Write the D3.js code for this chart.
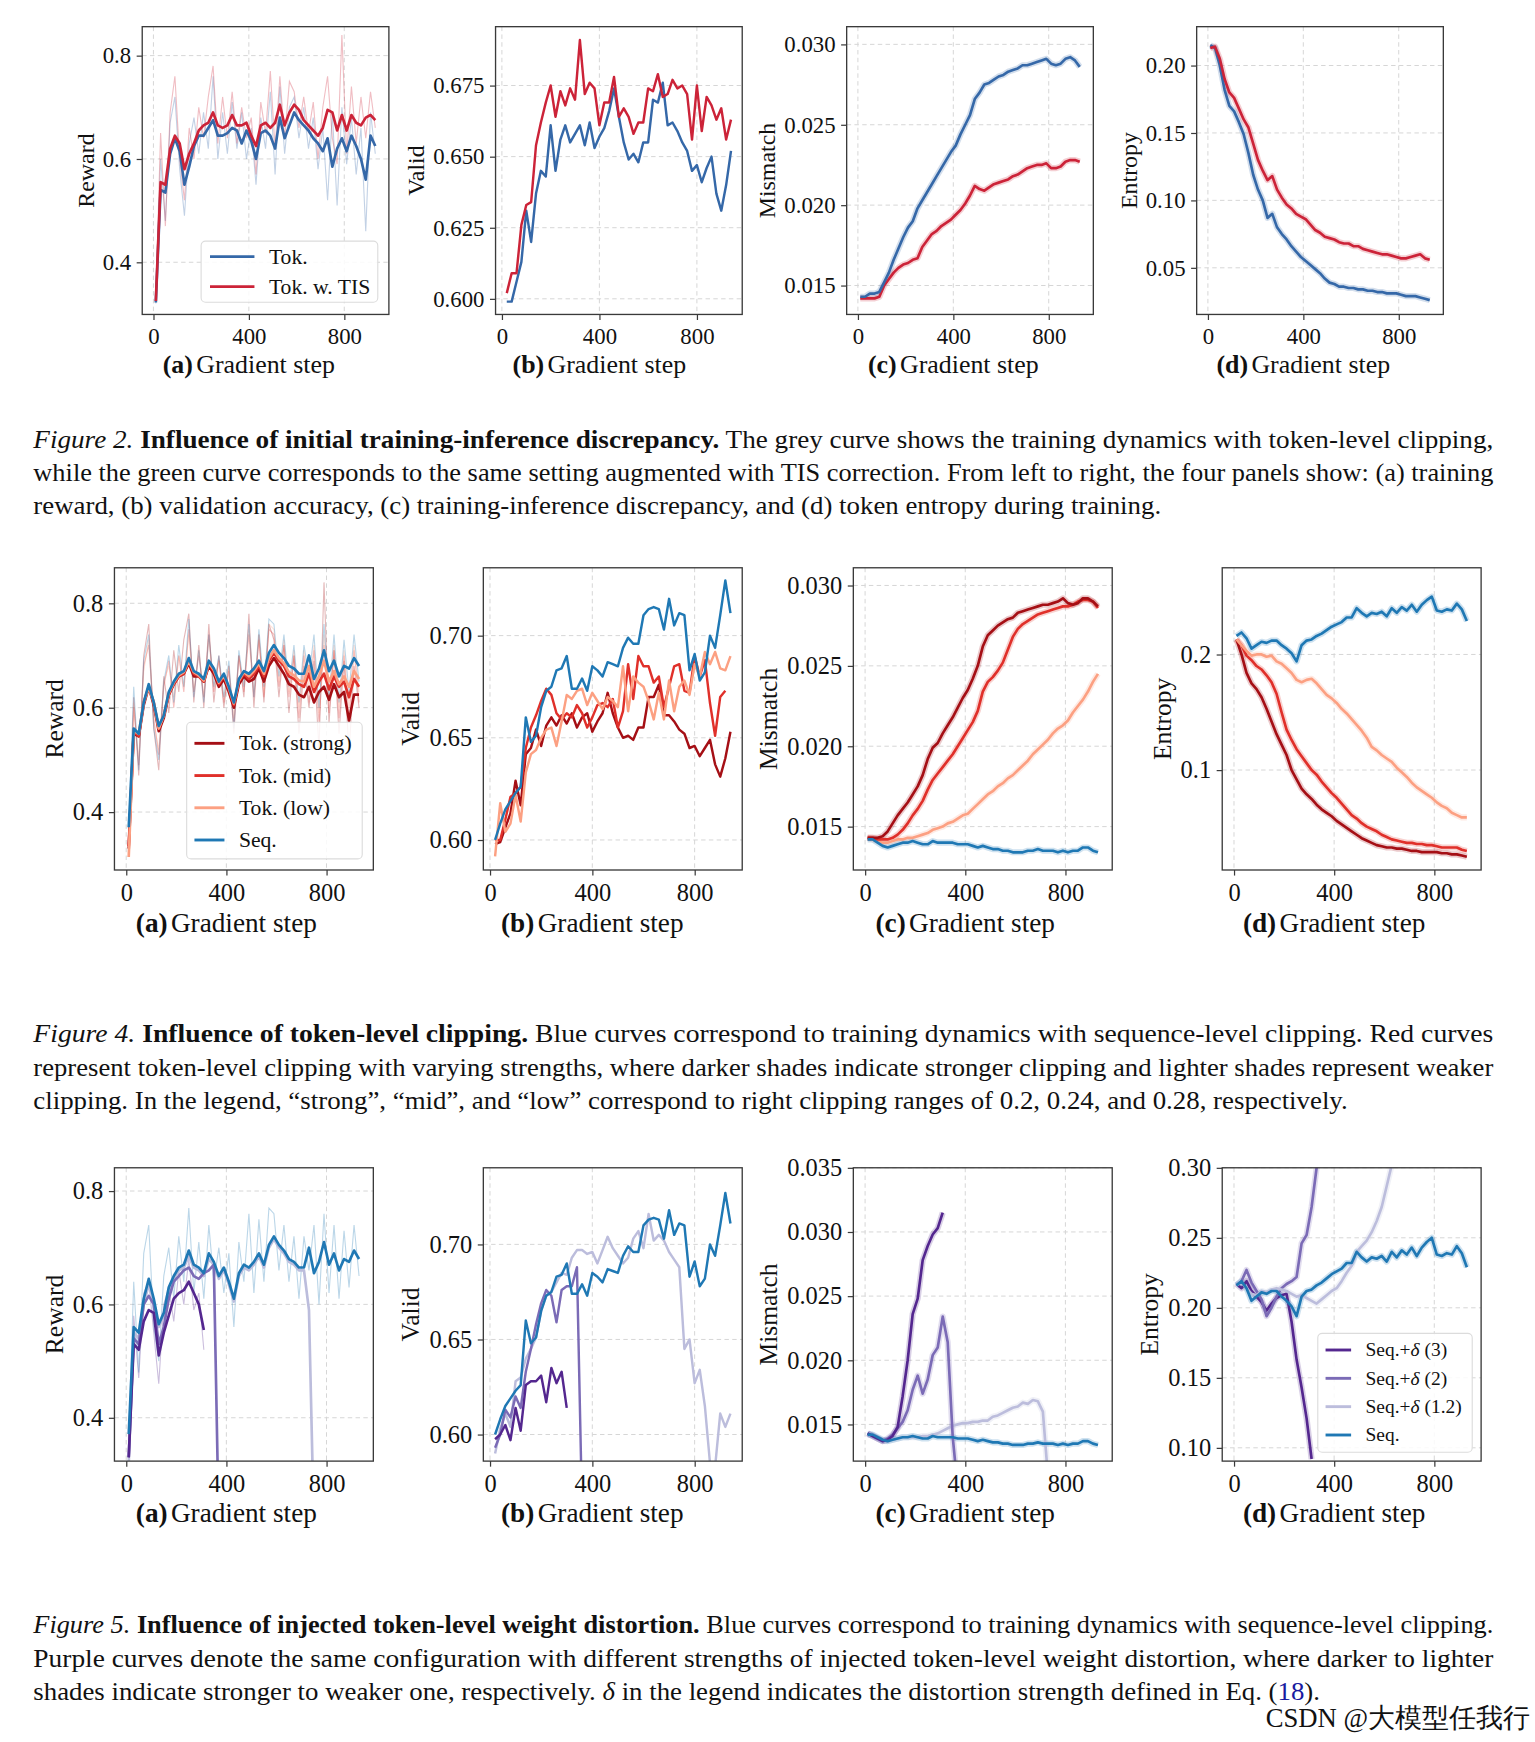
<!DOCTYPE html>
<html>
<head>
<meta charset="utf-8">
<script src="https://cdn.jsdelivr.net/npm/d3@7"></script>
<style>
  body { margin: 0; background: #fff; }
  text { font-family: "Liberation Serif", "Times New Roman", serif; fill: #111; }
</style>
</head>
<body>
<script>
// ---------- data ----------
// training curves are sampled every 20 steps from step 10, validation every 20 steps from step 20
let trainSteps = [10, 30, 50, 70, 90, 110, 130, 150, 170, 190, 210, 230, 250, 270, 290, 310, 330, 350, 370, 390,
  410, 430, 450, 470, 490, 510, 530, 550, 570, 590, 610, 630, 650, 670, 690, 710, 730, 750, 770, 790,
  810, 830, 850, 870, 890, 910, 930];
let validSteps = [20, 40, 60, 80, 100, 120, 140, 160, 180, 200, 220, 240, 260, 280, 300, 320, 340, 360, 380, 400,
  420, 440, 460, 480, 500, 520, 540, 560, 580, 600, 620, 640, 660, 680, 700, 720, 740, 760, 780, 800,
  820, 840, 860, 880, 900, 920, 940];
let xTickValues = [0, 400, 800];

// Figure 2
let f2RewardTok = [0.322, 0.540, 0.535, 0.610, 0.640, 0.615, 0.550, 0.585, 0.625, 0.645,
  0.645, 0.660, 0.675, 0.645, 0.645, 0.650, 0.660, 0.655, 0.630, 0.655,
  0.635, 0.600, 0.650, 0.655, 0.645, 0.620, 0.680, 0.640, 0.665, 0.690,
  0.675, 0.665, 0.655, 0.640, 0.630, 0.615, 0.640, 0.585, 0.620, 0.640,
  0.615, 0.645, 0.625, 0.600, 0.560, 0.645, 0.625];
let f2RewardTIS = [0.325, 0.555, 0.550, 0.620, 0.645, 0.630, 0.580, 0.610, 0.630, 0.655,
  0.665, 0.670, 0.690, 0.665, 0.660, 0.665, 0.685, 0.665, 0.665, 0.670,
  0.645, 0.625, 0.665, 0.670, 0.660, 0.670, 0.705, 0.665, 0.690, 0.705,
  0.695, 0.675, 0.665, 0.655, 0.645, 0.660, 0.695, 0.690, 0.655, 0.685,
  0.655, 0.685, 0.670, 0.665, 0.680, 0.685, 0.675];
let f2RewardTokRaw = [0.320, 0.600, 0.480, 0.670, 0.720, 0.580, 0.490, 0.630, 0.680, 0.610,
  0.690, 0.620, 0.760, 0.600, 0.690, 0.610, 0.710, 0.620, 0.690, 0.600,
  0.660, 0.550, 0.680, 0.620, 0.730, 0.570, 0.740, 0.610, 0.700, 0.720,
  0.640, 0.700, 0.620, 0.680, 0.580, 0.660, 0.520, 0.690, 0.510, 0.700,
  0.590, 0.680, 0.570, 0.660, 0.460, 0.690, 0.610];
let f2RewardTISRaw = [0.330, 0.650, 0.470, 0.690, 0.760, 0.600, 0.520, 0.660, 0.600, 0.700,
  0.640, 0.720, 0.780, 0.630, 0.720, 0.640, 0.730, 0.630, 0.700, 0.640,
  0.680, 0.570, 0.710, 0.650, 0.770, 0.620, 0.760, 0.640, 0.750, 0.730,
  0.660, 0.720, 0.650, 0.710, 0.600, 0.700, 0.760, 0.640, 0.590, 0.840,
  0.610, 0.740, 0.630, 0.720, 0.640, 0.730, 0.660];
let f2ValidTok = [0.599, 0.599, 0.606, 0.613, 0.631, 0.620, 0.637, 0.645, 0.643, 0.661,
  0.645, 0.656, 0.661, 0.655, 0.658, 0.661, 0.654, 0.662, 0.653, 0.657,
  0.660, 0.666, 0.674, 0.664, 0.655, 0.649, 0.651, 0.648, 0.655, 0.655,
  0.670, 0.669, 0.676, 0.661, 0.662, 0.659, 0.655, 0.652, 0.645, 0.647,
  0.641, 0.646, 0.650, 0.637, 0.631, 0.640, 0.652];
let f2ValidTIS = [0.602, 0.609, 0.609, 0.626, 0.633, 0.634, 0.654, 0.662, 0.669, 0.675,
  0.664, 0.673, 0.668, 0.674, 0.670, 0.691, 0.672, 0.676, 0.674, 0.661,
  0.669, 0.669, 0.678, 0.664, 0.667, 0.664, 0.658, 0.662, 0.662, 0.674,
  0.673, 0.679, 0.671, 0.672, 0.677, 0.674, 0.675, 0.672, 0.656, 0.675,
  0.659, 0.671, 0.668, 0.663, 0.667, 0.656, 0.663];
let f2MismatchTok = [0.0143, 0.0143, 0.0145, 0.0145, 0.0146, 0.0152, 0.0158, 0.0166, 0.0173, 0.0180,
  0.0186, 0.0190, 0.0198, 0.0203, 0.0208, 0.0213, 0.0218, 0.0223, 0.0228, 0.0233,
  0.0237, 0.0244, 0.0250, 0.0256, 0.0266, 0.0270, 0.0275, 0.0276, 0.0278, 0.0280,
  0.0281, 0.0283, 0.0284, 0.0285, 0.0287, 0.0287, 0.0288, 0.0289, 0.0290, 0.0291,
  0.0288, 0.0287, 0.0288, 0.0291, 0.0292, 0.0290, 0.0286];
let f2MismatchTIS = [0.0142, 0.0142, 0.0142, 0.0142, 0.0143, 0.0150, 0.0154, 0.0158, 0.0161, 0.0163,
  0.0164, 0.0166, 0.0167, 0.0174, 0.0178, 0.0182, 0.0184, 0.0187, 0.0189, 0.0191,
  0.0194, 0.0197, 0.0201, 0.0206, 0.0212, 0.0210, 0.0209, 0.0211, 0.0213, 0.0214,
  0.0215, 0.0216, 0.0218, 0.0219, 0.0221, 0.0223, 0.0224, 0.0225, 0.0225, 0.0226,
  0.0223, 0.0223, 0.0224, 0.0227, 0.0228, 0.0228, 0.0227];
let f2EntropyTok = [0.215, 0.213, 0.200, 0.182, 0.170, 0.166, 0.158, 0.149, 0.135, 0.119,
  0.108, 0.100, 0.087, 0.090, 0.080, 0.075, 0.071, 0.066, 0.062, 0.058,
  0.055, 0.052, 0.049, 0.046, 0.042, 0.039, 0.038, 0.036, 0.036, 0.035,
  0.035, 0.034, 0.034, 0.033, 0.033, 0.032, 0.032, 0.031, 0.031, 0.031,
  0.030, 0.029, 0.029, 0.029, 0.028, 0.027, 0.026];
let f2EntropyTIS = [0.213, 0.214, 0.205, 0.190, 0.180, 0.176, 0.168, 0.160, 0.154, 0.142,
  0.130, 0.122, 0.115, 0.118, 0.108, 0.102, 0.097, 0.094, 0.090, 0.088,
  0.086, 0.082, 0.078, 0.076, 0.073, 0.072, 0.071, 0.069, 0.068, 0.068,
  0.066, 0.066, 0.064, 0.063, 0.062, 0.061, 0.060, 0.060, 0.059, 0.058,
  0.057, 0.057, 0.058, 0.059, 0.060, 0.057, 0.056];

// Figure 4
let f4RewardStrong = [0.330, 0.550, 0.545, 0.605, 0.640, 0.605, 0.555, 0.580, 0.625, 0.645,
  0.660, 0.665, 0.685, 0.660, 0.660, 0.650, 0.680, 0.665, 0.640, 0.655,
  0.630, 0.600, 0.645, 0.660, 0.650, 0.655, 0.675, 0.650, 0.680, 0.695,
  0.680, 0.665, 0.645, 0.640, 0.625, 0.620, 0.640, 0.610, 0.630, 0.640,
  0.615, 0.645, 0.620, 0.630, 0.575, 0.625, 0.625];
let f4RewardMid = [0.335, 0.555, 0.545, 0.610, 0.640, 0.610, 0.560, 0.585, 0.625, 0.645,
  0.660, 0.665, 0.690, 0.665, 0.660, 0.650, 0.685, 0.670, 0.645, 0.660,
  0.635, 0.605, 0.650, 0.665, 0.655, 0.665, 0.680, 0.660, 0.690, 0.705,
  0.690, 0.680, 0.660, 0.655, 0.645, 0.640, 0.665, 0.630, 0.650, 0.665,
  0.635, 0.660, 0.640, 0.650, 0.620, 0.655, 0.640];
let f4RewardLow = [0.314, 0.555, 0.550, 0.610, 0.640, 0.610, 0.560, 0.585, 0.628, 0.648,
  0.662, 0.668, 0.690, 0.668, 0.662, 0.652, 0.686, 0.672, 0.648, 0.662,
  0.638, 0.608, 0.652, 0.668, 0.660, 0.670, 0.685, 0.665, 0.695, 0.710,
  0.695, 0.685, 0.668, 0.662, 0.652, 0.650, 0.680, 0.640, 0.660, 0.690,
  0.650, 0.670, 0.645, 0.660, 0.640, 0.670, 0.655];
let seqReward = [0.371, 0.560, 0.550, 0.610, 0.645, 0.610, 0.565, 0.585, 0.630, 0.650,
  0.665, 0.670, 0.695, 0.670, 0.665, 0.655, 0.690, 0.675, 0.650, 0.665,
  0.640, 0.610, 0.655, 0.670, 0.665, 0.675, 0.690, 0.670, 0.705, 0.720,
  0.705, 0.695, 0.680, 0.675, 0.665, 0.665, 0.700, 0.655, 0.675, 0.710,
  0.670, 0.690, 0.660, 0.680, 0.675, 0.695, 0.680];
let f4RewardStrongRaw = [0.330, 0.620, 0.470, 0.700, 0.760, 0.560, 0.480, 0.660, 0.590, 0.710,
  0.630, 0.730, 0.780, 0.610, 0.720, 0.600, 0.760, 0.610, 0.700, 0.600,
  0.680, 0.550, 0.700, 0.620, 0.780, 0.600, 0.740, 0.610, 0.760, 0.730,
  0.620, 0.720, 0.590, 0.700, 0.550, 0.680, 0.600, 0.690, 0.520, 0.840,
  0.570, 0.710, 0.550, 0.690, 0.510, 0.680, 0.600];
let f4RewardMidRaw = [0.335, 0.600, 0.490, 0.680, 0.720, 0.580, 0.510, 0.640, 0.690, 0.600,
  0.700, 0.630, 0.750, 0.630, 0.700, 0.620, 0.740, 0.630, 0.690, 0.610,
  0.670, 0.570, 0.700, 0.630, 0.740, 0.620, 0.730, 0.620, 0.750, 0.740,
  0.640, 0.720, 0.620, 0.700, 0.580, 0.700, 0.610, 0.710, 0.570, 0.720,
  0.590, 0.710, 0.580, 0.700, 0.570, 0.710, 0.610];
let f4RewardLowRaw = [0.314, 0.610, 0.500, 0.670, 0.730, 0.570, 0.520, 0.650, 0.680, 0.620,
  0.700, 0.640, 0.740, 0.630, 0.710, 0.620, 0.730, 0.640, 0.690, 0.620,
  0.680, 0.580, 0.700, 0.640, 0.750, 0.630, 0.740, 0.630, 0.760, 0.750,
  0.650, 0.730, 0.630, 0.710, 0.600, 0.710, 0.640, 0.720, 0.590, 0.740,
  0.610, 0.720, 0.600, 0.710, 0.600, 0.720, 0.630];
let seqRewardRaw = [0.371, 0.640, 0.480, 0.690, 0.740, 0.560, 0.500, 0.650, 0.700, 0.610,
  0.720, 0.640, 0.770, 0.620, 0.710, 0.610, 0.740, 0.640, 0.700, 0.620,
  0.690, 0.560, 0.710, 0.640, 0.760, 0.620, 0.750, 0.640, 0.770, 0.760,
  0.660, 0.740, 0.640, 0.720, 0.610, 0.720, 0.660, 0.740, 0.600, 0.760,
  0.620, 0.740, 0.610, 0.730, 0.630, 0.740, 0.650];
let f4ValidStrong = [0.598, 0.599, 0.606, 0.613, 0.629, 0.617, 0.642, 0.645, 0.654, 0.646,
  0.656, 0.660, 0.656, 0.661, 0.657, 0.662, 0.655, 0.660, 0.662, 0.653,
  0.658, 0.662, 0.672, 0.662, 0.655, 0.650, 0.651, 0.649, 0.655, 0.655,
  0.670, 0.670, 0.676, 0.661, 0.661, 0.658, 0.654, 0.652, 0.645, 0.646,
  0.641, 0.645, 0.649, 0.637, 0.631, 0.640, 0.653];
let f4ValidMid = [0.600, 0.600, 0.610, 0.621, 0.623, 0.626, 0.645, 0.655, 0.661, 0.668,
  0.674, 0.671, 0.662, 0.659, 0.662, 0.660, 0.666, 0.662, 0.655, 0.660,
  0.666, 0.667, 0.665, 0.669, 0.655, 0.663, 0.686, 0.669, 0.690, 0.685,
  0.685, 0.677, 0.680, 0.665, 0.675, 0.685, 0.686, 0.673, 0.672, 0.690,
  0.680, 0.688, 0.667, 0.651, 0.670, 0.673];
let f4ValidLow = [0.592, 0.618, 0.604, 0.608, 0.622, 0.609, 0.633, 0.642, 0.644, 0.650,
  0.654, 0.655, 0.646, 0.658, 0.671, 0.669, 0.673, 0.674, 0.666, 0.672,
  0.668, 0.664, 0.670, 0.668, 0.665, 0.685, 0.663, 0.680, 0.677, 0.675,
  0.668, 0.659, 0.672, 0.659, 0.678, 0.663, 0.675, 0.678, 0.671, 0.686,
  0.680, 0.692, 0.686, 0.692, 0.684, 0.683, 0.690];
let seqValid = [0.600, 0.608, 0.615, 0.619, 0.623, 0.626, 0.660, 0.648, 0.651, 0.665,
  0.673, 0.675, 0.683, 0.684, 0.690, 0.674, 0.674, 0.679, 0.673, 0.685,
  0.683, 0.680, 0.687, 0.686, 0.685, 0.694, 0.699, 0.696, 0.696, 0.710,
  0.713, 0.714, 0.713, 0.703, 0.718, 0.705, 0.711, 0.710, 0.683, 0.691,
  0.678, 0.682, 0.700, 0.694, 0.710, 0.727, 0.711];
let f4MismatchStrong = [0.0143, 0.0143, 0.0143, 0.0144, 0.0147, 0.0152, 0.0157, 0.0161, 0.0165, 0.0170,
  0.0175, 0.0182, 0.0192, 0.0199, 0.0202, 0.0208, 0.0213, 0.0218, 0.0224, 0.0230,
  0.0235, 0.0242, 0.0250, 0.0262, 0.0269, 0.0272, 0.0275, 0.0277, 0.0279, 0.0280,
  0.0283, 0.0284, 0.0285, 0.0286, 0.0287, 0.0288, 0.0288, 0.0289, 0.0290, 0.0292,
  0.0289, 0.0288, 0.0289, 0.0292, 0.0292, 0.0290, 0.0287];
let f4MismatchMid = [0.0143, 0.0143, 0.0142, 0.0142, 0.0142, 0.0143, 0.0145, 0.0148, 0.0152, 0.0157,
  0.0161, 0.0166, 0.0173, 0.0179, 0.0183, 0.0187, 0.0191, 0.0195, 0.0200, 0.0205,
  0.0210, 0.0215, 0.0222, 0.0234, 0.0240, 0.0243, 0.0247, 0.0252, 0.0260, 0.0268,
  0.0273, 0.0276, 0.0278, 0.0280, 0.0282, 0.0283, 0.0284, 0.0285, 0.0286, 0.0287,
  0.0287, 0.0288, 0.0290, 0.0291, 0.0291, 0.0290, 0.0286];
let f4MismatchLow = [0.0143, 0.0142, 0.0141, 0.0140, 0.0140, 0.0141, 0.0142, 0.0142, 0.0143, 0.0143,
  0.0144, 0.0145, 0.0146, 0.0148, 0.0149, 0.0150, 0.0152, 0.0153, 0.0155, 0.0157,
  0.0158, 0.0161, 0.0164, 0.0167, 0.0170, 0.0172, 0.0175, 0.0177, 0.0180, 0.0182,
  0.0185, 0.0188, 0.0191, 0.0195, 0.0198, 0.0201, 0.0204, 0.0208, 0.0211, 0.0213,
  0.0216, 0.0221, 0.0225, 0.0229, 0.0234, 0.0240, 0.0245];
let seqMismatch = [0.0142, 0.0142, 0.0140, 0.0138, 0.0137, 0.0138, 0.0139, 0.0140, 0.0140, 0.0141,
  0.0140, 0.0139, 0.0139, 0.0141, 0.0140, 0.0140, 0.0140, 0.0140, 0.0139, 0.0139,
  0.0139, 0.0138, 0.0137, 0.0138, 0.0137, 0.0136, 0.0136, 0.0135, 0.0135, 0.0134,
  0.0134, 0.0134, 0.0135, 0.0135, 0.0136, 0.0135, 0.0135, 0.0135, 0.0134, 0.0135,
  0.0134, 0.0135, 0.0135, 0.0137, 0.0137, 0.0135, 0.0134];
let f4EntropyStrong = [0.213, 0.200, 0.184, 0.175, 0.170, 0.163, 0.153, 0.142, 0.131, 0.122,
  0.113, 0.100, 0.092, 0.084, 0.079, 0.075, 0.070, 0.066, 0.063, 0.060,
  0.056, 0.053, 0.050, 0.047, 0.044, 0.041, 0.039, 0.037, 0.035, 0.034,
  0.033, 0.033, 0.032, 0.032, 0.031, 0.030, 0.030, 0.029, 0.029, 0.029,
  0.029, 0.028, 0.028, 0.027, 0.027, 0.026, 0.025];
let f4EntropyMid = [0.213, 0.208, 0.199, 0.195, 0.190, 0.187, 0.182, 0.176, 0.166, 0.150,
  0.135, 0.126, 0.118, 0.112, 0.106, 0.100, 0.096, 0.090, 0.085, 0.080,
  0.076, 0.071, 0.066, 0.061, 0.058, 0.054, 0.051, 0.049, 0.047, 0.044,
  0.042, 0.040, 0.039, 0.038, 0.037, 0.037, 0.036, 0.036, 0.035, 0.035,
  0.034, 0.033, 0.033, 0.033, 0.033, 0.031, 0.030];
let f4EntropyLow = [0.213, 0.208, 0.203, 0.199, 0.200, 0.200, 0.198, 0.199, 0.194, 0.192,
  0.188, 0.184, 0.178, 0.176, 0.178, 0.179, 0.175, 0.170, 0.165, 0.162,
  0.158, 0.153, 0.149, 0.144, 0.139, 0.134, 0.128, 0.120, 0.117, 0.113,
  0.110, 0.107, 0.102, 0.098, 0.094, 0.089, 0.085, 0.082, 0.079, 0.076,
  0.072, 0.069, 0.067, 0.063, 0.061, 0.059, 0.059];
let seqEntropy = [0.216, 0.219, 0.214, 0.205, 0.208, 0.211, 0.210, 0.212, 0.212, 0.208,
  0.205, 0.201, 0.194, 0.208, 0.212, 0.213, 0.216, 0.218, 0.221, 0.224,
  0.226, 0.228, 0.232, 0.232, 0.240, 0.236, 0.233, 0.236, 0.235, 0.237,
  0.233, 0.240, 0.236, 0.241, 0.238, 0.243, 0.237, 0.243, 0.247, 0.250,
  0.238, 0.237, 0.239, 0.238, 0.244, 0.239, 0.229];

// Figure 5 (runs stop or leave the plot early, so these lists are shorter)
let f5RewardD3 = [0.330, 0.530, 0.520, 0.570, 0.590, 0.585, 0.510, 0.550, 0.580, 0.610,
  0.620, 0.625, 0.640, 0.620, 0.600, 0.555];
let f5RewardD2 = [0.330, 0.540, 0.530, 0.600, 0.615, 0.600, 0.530, 0.560, 0.610, 0.640,
  0.650, 0.660, 0.665, 0.650, 0.645, 0.655, 0.660, 0.670, 0.200];
let f5RewardD12 = [0.320, 0.550, 0.540, 0.600, 0.635, 0.605, 0.560, 0.580, 0.625, 0.645,
  0.660, 0.665, 0.685, 0.665, 0.660, 0.650, 0.680, 0.670, 0.645, 0.660,
  0.635, 0.605, 0.650, 0.665, 0.660, 0.670, 0.685, 0.665, 0.700, 0.715,
  0.700, 0.690, 0.675, 0.670, 0.660, 0.660, 0.590, 0.200];
let f5RewardD3Raw = [0.330, 0.580, 0.470, 0.620, 0.640, 0.550, 0.460, 0.600, 0.630, 0.570,
  0.660, 0.600, 0.680, 0.590, 0.620, 0.520];
let f5ValidD3 = [0.5975, 0.600, 0.605, 0.597, 0.614, 0.602, 0.626, 0.628, 0.628, 0.631,
  0.617, 0.635, 0.627, 0.633, 0.614];
let f5ValidD2 = [0.593, 0.600, 0.613, 0.609, 0.620, 0.614, 0.633, 0.645, 0.658, 0.669,
  0.676, 0.673, 0.659, 0.676, 0.678, 0.678, 0.688, 0.560];
let f5ValidD12 = [0.590, 0.603, 0.611, 0.604, 0.628, 0.630, 0.640, 0.645, 0.651, 0.665,
  0.673, 0.675, 0.680, 0.685, 0.684, 0.693, 0.697, 0.697, 0.695, 0.696,
  0.690, 0.697, 0.704, 0.698, 0.694, 0.690, 0.693, 0.703, 0.707, 0.698,
  0.716, 0.702, 0.705, 0.702, 0.696, 0.692, 0.688, 0.645, 0.650, 0.627,
  0.634, 0.615, 0.585, 0.583, 0.611, 0.604, 0.611];
let f5MismatchD3 = [0.0143, 0.0141, 0.0139, 0.0137, 0.0138, 0.0141, 0.0148, 0.0172, 0.0200, 0.0236,
  0.0248, 0.0278, 0.0289, 0.0298, 0.0303, 0.0315];
let f5MismatchD2 = [0.0143, 0.0141, 0.0139, 0.0137, 0.0139, 0.0142, 0.0147, 0.0152, 0.0161, 0.0177,
  0.0188, 0.0174, 0.0185, 0.0204, 0.0210, 0.0234, 0.0214, 0.0140, 0.0100];
let f5MismatchD12 = [0.0143, 0.0142, 0.0139, 0.0137, 0.0137, 0.0138, 0.0139, 0.0140, 0.0140, 0.0140,
  0.0140, 0.0141, 0.0141, 0.0142, 0.0143, 0.0145, 0.0147, 0.0149, 0.0150, 0.0151,
  0.0151, 0.0152, 0.0152, 0.0153, 0.0153, 0.0156, 0.0157, 0.0159, 0.0161, 0.0163,
  0.0164, 0.0167, 0.0166, 0.0169, 0.0168, 0.0160, 0.0110];
let f5EntropyD3 = [0.217, 0.214, 0.219, 0.212, 0.208, 0.204, 0.198, 0.203, 0.207, 0.209,
  0.210, 0.190, 0.163, 0.143, 0.121, 0.092];
let f5EntropyD2 = [0.216, 0.219, 0.227, 0.218, 0.212, 0.206, 0.194, 0.200, 0.208, 0.214,
  0.217, 0.219, 0.222, 0.246, 0.252, 0.272, 0.300, 0.330];
let f5EntropyD12 = [0.216, 0.218, 0.214, 0.210, 0.209, 0.212, 0.211, 0.213, 0.214, 0.213,
  0.212, 0.210, 0.208, 0.209, 0.207, 0.205, 0.203, 0.206, 0.209, 0.212,
  0.214, 0.219, 0.225, 0.230, 0.240, 0.244, 0.248, 0.254, 0.262, 0.272,
  0.287, 0.302, 0.320];

// colours
let cTok = "#3568a8", cTIS = "#cc2338";
let cStrong = "#a50f15", cMid = "#e0302a", cLow = "#fca082", cSeq = "#1f78b4";
let cD3 = "#54278f", cD2 = "#7b6bb6", cD12 = "#bcbddc";

// ---------- page ----------
// drawing units are those of the figure (1381.5 wide), scaled up to the 1535 px page
let W = 1381.5, H = 1567.8;
let svg = d3.select("body").append("svg")
    .attr("width", 1535)
    .attr("height", 1742)
    .attr("viewBox", `0 0 ${W} ${H}`);
svg.append("rect").attr("width", W).attr("height", H).attr("fill", "#fff");

let trainDomain = [-47, 987];
let validDomain = [-26, 986];

function pts(steps, vals) {
    return vals.map((v, i) => [steps[i], v]);
}

function drawPanel(p) {
    let R = p.row;
    let g = svg.append("g").attr("transform", `translate(${p.left}, ${R.top})`);
    let x = d3.scaleLinear().domain(p.valid ? validDomain : trainDomain).range([0, R.w]);
    let y = d3.scaleLinear().domain(p.yDomain).range([R.h, 0]);
    let steps = p.valid ? validSteps : trainSteps;

    // dashed grid
    g.selectAll(".gx").data(xTickValues).enter().append("line")
        .attr("x1", d => x(d)).attr("x2", d => x(d))
        .attr("y1", 0).attr("y2", R.h)
        .attr("stroke", "#d6d6d6").attr("stroke-width", 0.9).attr("stroke-dasharray", "4,3");
    g.selectAll(".gy").data(p.yTicks).enter().append("line")
        .attr("x1", 0).attr("x2", R.w)
        .attr("y1", d => y(d)).attr("y2", d => y(d))
        .attr("stroke", "#d6d6d6").attr("stroke-width", 0.9).attr("stroke-dasharray", "4,3");

    let clipId = "clip-" + p.id;
    g.append("clipPath").attr("id", clipId)
        .append("rect").attr("width", R.w).attr("height", R.h);
    let plot = g.append("g").attr("clip-path", `url(#${clipId})`);

    let line = d3.line().x(d => x(d[0])).y(d => y(d[1]));

    // raw (unsmoothed) traces
    p.series.forEach(s => {
        if (!s.raw) return;
        plot.append("path").datum(pts(steps, s.raw))
            .attr("d", line).attr("fill", "none")
            .attr("stroke", s.color).attr("stroke-width", 1)
            .attr("opacity", 0.3);
    });
    // noise band under smoothed curves
    if (p.band) {
        p.series.forEach(s => {
            plot.append("path").datum(pts(steps, s.values))
                .attr("d", line).attr("fill", "none")
                .attr("stroke", s.color).attr("stroke-width", 5.5)
                .attr("stroke-linejoin", "round")
                .attr("opacity", 0.22);
        });
    }
    p.series.forEach(s => {
        plot.append("path").datum(pts(steps, s.values))
            .attr("d", line).attr("fill", "none")
            .attr("stroke", s.color).attr("stroke-width", p.lw || 2.4)
            .attr("stroke-linejoin", "round");
    });

    g.append("rect").attr("width", R.w).attr("height", R.h)
        .attr("fill", "none").attr("stroke", "#3a3a3a").attr("stroke-width", 1.2);

    let xAxis = g.append("g").attr("transform", `translate(0, ${R.h})`)
        .call(d3.axisBottom(x).tickValues(xTickValues).tickSize(5).tickPadding(7).tickFormat(d3.format("d")));
    let yAxis = g.append("g")
        .call(d3.axisLeft(y).tickValues(p.yTicks).tickSize(5).tickPadding(5).tickFormat(d3.format(p.yFormat)));
    [xAxis, yAxis].forEach(a => {
        a.select(".domain").remove();
        a.selectAll(".tick line").attr("stroke", "#3a3a3a").attr("stroke-width", 1.1);
        a.selectAll(".tick text").attr("font-size", R.tickFs).attr("fill", "#111")
            .attr("font-family", "Liberation Serif, serif");
    });

    let bb = yAxis.node().getBBox();
    g.append("text")
        .attr("transform", "rotate(-90)")
        .attr("x", -R.h / 2).attr("y", bb.x - R.ylabGap)
        .attr("text-anchor", "middle").attr("font-size", R.ylabFs)
        .text(p.ylabel);

    let xl = g.append("text")
        .attr("x", x(400)).attr("y", R.h + R.xlabDy)
        .attr("text-anchor", "middle").attr("font-size", R.xlabFs);
    xl.append("tspan").attr("font-weight", "bold").text(`(${p.letter})`);
    xl.append("tspan").attr("dx", 3).text("Gradient step");

    if (p.legend) {
        let L = p.legend;
        let lg = g.append("g").attr("transform", `translate(${R.w - L.right - L.w}, ${R.h - L.bottom - L.h})`);
        lg.append("rect").attr("width", L.w).attr("height", L.h).attr("rx", 4)
            .attr("fill", "#fff").attr("fill-opacity", 0.85)
            .attr("stroke", "#dcdcdc").attr("stroke-width", 1);
        p.series.forEach((s, i) => {
            let yy = L.first + i * L.step;
            lg.append("line").attr("x1", L.x0).attr("x2", L.x1).attr("y1", yy).attr("y2", yy)
                .attr("stroke", s.color).attr("stroke-width", 2.6);
            let t = lg.append("text").attr("x", L.tx).attr("y", yy + L.fs * 0.33).attr("font-size", L.fs);
            let parts = s.label.split("δ");
            t.append("tspan").text(parts[0]);
            if (parts.length > 1) {
                t.append("tspan").attr("font-style", "italic").text("δ");
                t.append("tspan").text(parts[1]);
            }
        });
    }
}

// ---------- panels ----------
let row1 = {top: 24, h: 259, w: 222, tickFs: 20.5, ylabFs: 21.5, ylabGap: 8, xlabFs: 23.3, xlabDy: 53};
let row2 = {top: 511, h: 272, w: 233, tickFs: 22, ylabFs: 23, ylabGap: 9, xlabFs: 24.5, xlabDy: 56};
let row3 = {top: 1051, h: 264, w: 233, tickFs: 22, ylabFs: 23, ylabGap: 9, xlabFs: 24.5, xlabDy: 55};
let left1 = [128, 446, 762, 1077];
let left23 = [103, 435, 768, 1100];

let legend2 = {w: 159, h: 55, right: 10, bottom: 11, first: 14, step: 27, x0: 8, x1: 48, tx: 61, fs: 19.5};
let legend4 = {w: 158, h: 123, right: 10, bottom: 10, first: 19, step: 29, x0: 7, x1: 34, tx: 47, fs: 19.5};
let legend5 = {w: 139, h: 107, right: 8, bottom: 8, first: 15, step: 25.5, x0: 7, x1: 30, tx: 43, fs: 17.5};

let panels = [
    {id: "2a", row: row1, left: left1[0], letter: "a", ylabel: "Reward", yDomain: [0.299, 0.856], yTicks: [0.4, 0.6, 0.8], yFormat: ".1f",
     legend: legend2,
     series: [{label: "Tok.", color: cTok, values: f2RewardTok, raw: f2RewardTokRaw},
              {label: "Tok. w. TIS", color: cTIS, values: f2RewardTIS, raw: f2RewardTISRaw}]},
    {id: "2b", row: row1, left: left1[1], letter: "b", ylabel: "Valid", valid: true, lw: 2.2, yDomain: [0.5945, 0.6957], yTicks: [0.600, 0.625, 0.650, 0.675], yFormat: ".3f",
     series: [{color: cTok, values: f2ValidTok}, {color: cTIS, values: f2ValidTIS}]},
    {id: "2c", row: row1, left: left1[2], letter: "c", ylabel: "Mismatch", band: true, yDomain: [0.0132, 0.0311], yTicks: [0.015, 0.020, 0.025, 0.030], yFormat: ".3f",
     series: [{color: cTIS, values: f2MismatchTIS}, {color: cTok, values: f2MismatchTok}]},
    {id: "2d", row: row1, left: left1[3], letter: "d", ylabel: "Entropy", band: true, yDomain: [0.0154, 0.2288], yTicks: [0.05, 0.10, 0.15, 0.20], yFormat: ".2f",
     series: [{color: cTok, values: f2EntropyTok}, {color: cTIS, values: f2EntropyTIS}]},

    {id: "4a", row: row2, left: left23[0], letter: "a", ylabel: "Reward", yDomain: [0.289, 0.868], yTicks: [0.4, 0.6, 0.8], yFormat: ".1f",
     legend: legend4,
     series: [{label: "Tok. (strong)", color: cStrong, values: f4RewardStrong, raw: f4RewardStrongRaw},
              {label: "Tok. (mid)", color: cMid, values: f4RewardMid, raw: f4RewardMidRaw},
              {label: "Tok. (low)", color: cLow, values: f4RewardLow, raw: f4RewardLowRaw},
              {label: "Seq.", color: cSeq, values: seqReward, raw: seqRewardRaw}]},
    {id: "4b", row: row2, left: left23[1], letter: "b", ylabel: "Valid", valid: true, lw: 2.2, yDomain: [0.5853, 0.7332], yTicks: [0.60, 0.65, 0.70], yFormat: ".2f",
     series: [{color: cStrong, values: f4ValidStrong}, {color: cMid, values: f4ValidMid},
              {color: cLow, values: f4ValidLow}, {color: cSeq, values: seqValid}]},
    {id: "4c", row: row2, left: left23[2], letter: "c", ylabel: "Mismatch", band: true, yDomain: [0.0123, 0.0311], yTicks: [0.015, 0.020, 0.025, 0.030], yFormat: ".3f",
     series: [{color: cLow, values: f4MismatchLow}, {color: cMid, values: f4MismatchMid},
              {color: cStrong, values: f4MismatchStrong}, {color: cSeq, values: seqMismatch}]},
    {id: "4d", row: row2, left: left23[3], letter: "d", ylabel: "Entropy", band: true, yDomain: [0.0135, 0.275], yTicks: [0.1, 0.2], yFormat: ".1f",
     series: [{color: cStrong, values: f4EntropyStrong}, {color: cMid, values: f4EntropyMid},
              {color: cLow, values: f4EntropyLow}, {color: cSeq, values: seqEntropy}]},

    {id: "5a", row: row3, left: left23[0], letter: "a", ylabel: "Reward", yDomain: [0.3235, 0.841], yTicks: [0.4, 0.6, 0.8], yFormat: ".1f",
     series: [{color: cD12, values: f5RewardD12},
              {color: cD2, values: f5RewardD2},
              {color: cD3, values: f5RewardD3, raw: f5RewardD3Raw},
              {color: cSeq, values: seqReward, raw: seqRewardRaw}]},
    {id: "5b", row: row3, left: left23[1], letter: "b", ylabel: "Valid", valid: true, lw: 2.2, yDomain: [0.586, 0.7403], yTicks: [0.60, 0.65, 0.70], yFormat: ".2f",
     series: [{color: cD12, values: f5ValidD12}, {color: cD2, values: f5ValidD2},
              {color: cD3, values: f5ValidD3}, {color: cSeq, values: seqValid}]},
    {id: "5c", row: row3, left: left23[2], letter: "c", ylabel: "Mismatch", band: true, yDomain: [0.01214, 0.035], yTicks: [0.015, 0.020, 0.025, 0.030, 0.035], yFormat: ".3f",
     series: [{color: cD12, values: f5MismatchD12}, {color: cD2, values: f5MismatchD2},
              {color: cD3, values: f5MismatchD3}, {color: cSeq, values: seqMismatch}]},
    {id: "5d", row: row3, left: left23[3], letter: "d", ylabel: "Entropy", band: true, yDomain: [0.0905, 0.30], yTicks: [0.10, 0.15, 0.20, 0.25, 0.30], yFormat: ".2f",
     legend: legend5,
     series: [{label: "Seq.+δ (3)", color: cD3, values: f5EntropyD3},
              {label: "Seq.+δ (2)", color: cD2, values: f5EntropyD2},
              {label: "Seq.+δ (1.2)", color: cD12, values: f5EntropyD12},
              {label: "Seq.", color: cSeq, values: seqEntropy}]}
];

panels.forEach(drawPanel);

// ---------- captions ----------
// first two lines are justified; the last line keeps the width it has in the paper
function caption(y0, lastWidth, lines) {
    lines.forEach((parts, i) => {
        let t = svg.append("text").attr("x", 30).attr("y", y0 + i * 30).attr("font-size", 22.5)
            .attr("textLength", i < 2 ? 1314 : lastWidth)
            .attr("lengthAdjust", "spacingAndGlyphs");
        parts.forEach(pt => {
            let s = t.append("tspan").text(pt.t);
            if (pt.i) s.attr("font-style", "italic");
            if (pt.b) s.attr("font-weight", "bold");
            if (pt.c) s.attr("fill", pt.c);
        });
    });
}

caption(403, 1015, [
    [{t: "Figure 2.", i: true}, {t: " Influence of initial training-inference discrepancy.", b: true},
     {t: " The grey curve shows the training dynamics with token-level clipping,"}],
    [{t: "while the green curve corresponds to the same setting augmented with TIS correction. From left to right, the four panels show: (a) training"}],
    [{t: "reward, (b) validation accuracy, (c) training-inference discrepancy, and (d) token entropy during training."}]
]);
caption(938, 1183, [
    [{t: "Figure 4.", i: true}, {t: " Influence of token-level clipping.", b: true},
     {t: "  Blue curves correspond to training dynamics with sequence-level clipping.  Red curves"}],
    [{t: "represent token-level clipping with varying strengths, where darker shades indicate stronger clipping and lighter shades represent weaker"}],
    [{t: "clipping. In the legend, \u201cstrong\u201d, \u201cmid\u201d, and \u201clow\u201d correspond to right clipping ranges of 0.2, 0.24, and 0.28, respectively."}]
]);
caption(1470, 1158, [
    [{t: "Figure 5.", i: true}, {t: " Influence of injected token-level weight distortion.", b: true},
     {t: " Blue curves correspond to training dynamics with sequence-level clipping."}],
    [{t: "Purple curves denote the same configuration with different strengths of injected token-level weight distortion, where darker to lighter"}],
    [{t: "shades indicate stronger to weaker one, respectively. "}, {t: "\u03b4", i: true},
     {t: " in the legend indicates the distortion strength defined in Eq. ("}, {t: "18", c: "#1a1aa0"}, {t: ")."}]
]);

// watermark
svg.append("text")
    .attr("x", 1377).attr("y", 1554)
    .attr("text-anchor", "end")
    .attr("font-family", "Noto Sans CJK SC, sans-serif")
    .attr("font-size", 24)
    .attr("fill", "#c4c4c4")
    .text("CSDN @大模型任我行");
</script>
</body>
</html>
